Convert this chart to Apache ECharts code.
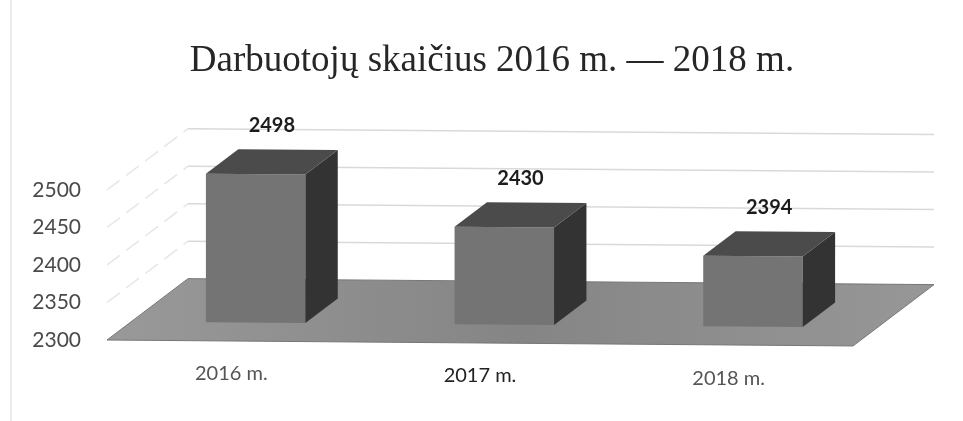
<!DOCTYPE html>
<html>
<head>
<meta charset="utf-8">
<style>
  html, body { margin: 0; padding: 0; background: #fff; }
  #chart { width: 963px; height: 421px; }
</style>
<script src="https://cdn.jsdelivr.net/npm/echarts@6/dist/echarts.min.js"></script>
</head>
<body>
<div id="chart"></div>
<script>
var categories = ['2016 m.', '2017 m.', '2018 m.']
var employees = [2498, 2430, 2394]
var yTicks = [2300, 2350, 2400, 2450, 2500]

// oblique projection of the old 3D chart: z=0 front edge of floor, z=1 back wall
var depthX = 81
var depthY = -62
var tilt = 0.008 // the scan is slightly rotated
var gridLeft = 107

function project(api, cat, value, z) {
  var c = api.coord([0, value])
  var band = api.size([1, 0])[0]
  var x = c[0] + cat * band + z * depthX
  var y = c[1] + z * depthY + (x - gridLeft) * tilt
  return [x, y]
}

function renderWall(params, api) {
  var v = api.value(0)
  var a = project(api, -0.5, v, 0)
  var b = project(api, -0.5, v, 1)
  var d = project(api, 2.5, v, 1)
  return {
    type: 'group',
    children: [
      { type: 'line', shape: { x1: a[0], y1: a[1], x2: b[0], y2: b[1] }, style: { stroke: '#e6e6e6', lineWidth: 1.5, lineDash: [16, 8] } },
      { type: 'line', shape: { x1: b[0], y1: b[1], x2: d[0], y2: d[1] }, style: { stroke: '#d9d9d9', lineWidth: 1.5 } }
    ]
  }
}

function renderFloor(params, api) {
  var base = yTicks[0]
  return {
    type: 'polygon',
    shape: { points: [
      project(api, -0.5, base, 0),
      project(api, -0.5, base, 1),
      project(api, 2.5, base, 1),
      project(api, 2.5, base, 0)
    ] },
    style: {
      fill: {
        type: 'linear', x: 0, y: 0, x2: 1, y2: 0,
        colorStops: [
          { offset: 0, color: '#999999' },
          { offset: 0.5, color: '#858585' },
          { offset: 1, color: '#979797' }
        ]
      },
      stroke: '#777777',
      lineWidth: 1
    }
  }
}

function renderBar(params, api) {
  var i = api.value(0)
  var v = api.value(1)
  var base = yTicks[0]
  var half = 0.2
  var z0 = 0.3
  var z1 = 0.7
  var fbl = project(api, i - half, base, z0)
  var fbr = project(api, i + half, base, z0)
  var ftl = project(api, i - half, v, z0)
  var ftr = project(api, i + half, v, z0)
  var bbr = project(api, i + half, base, z1)
  var btl = project(api, i - half, v, z1)
  var btr = project(api, i + half, v, z1)
  var top = project(api, i, v, 0.5)
  return {
    type: 'group',
    children: [
      { type: 'polygon', shape: { points: [fbl, fbr, ftr, ftl] }, style: { fill: '#747474' } },
      { type: 'polygon', shape: { points: [fbr, bbr, btr, ftr] }, style: { fill: '#333333' } },
      { type: 'polygon', shape: { points: [ftl, ftr, btr, btl] }, style: { fill: '#4b4b4b' } },
      {
        type: 'text',
        style: {
          x: top[0], y: top[1] - 36,
          text: api.value(1) + '',
          fill: '#1c1c1c',
          font: 'bold 20px Lato',
          align: 'center',
          verticalAlign: 'middle'
        }
      }
    ]
  }
}

var chart = echarts.init(document.getElementById('chart'))
chart.setOption({
  animation: false,
  backgroundColor: '#fff',
  title: {
    text: 'Darbuotojų skaičius 2016 m. — 2018 m.',
    left: 487,
    top: 38,
    textAlign: 'center',
    textStyle: {
      fontFamily: 'Liberation Serif',
      fontWeight: 'normal',
      fontSize: 37,
      color: '#262626'
    }
  },
  grid: { left: gridLeft, right: 110, top: 190, bottom: 81 },
  xAxis: {
    type: 'category',
    data: categories,
    axisLine: { show: false },
    axisTick: { show: false },
    axisLabel: {
      margin: 24,
      fontFamily: 'Lato',
      fontSize: 20,
      formatter: function (v, i) {
        return '{c' + i + '|' + v + '}'
      },
      rich: {
        c0: { color: '#555', fontFamily: 'Lato', fontSize: 20, padding: [0, 0, 0, 0] },
        c1: { color: '#222', fontFamily: 'Lato', fontSize: 20, padding: [2, 0, 0, 0] },
        c2: { color: '#555', fontFamily: 'Lato', fontSize: 20, padding: [5, 0, 0, 0] }
      }
    }
  },
  yAxis: {
    type: 'value',
    min: 2300,
    max: 2500,
    interval: 50,
    axisLine: { show: false },
    axisTick: { show: false },
    splitLine: { show: false },
    axisLabel: {
      margin: 26,
      color: '#4a4a4a',
      fontFamily: 'Lato',
      fontSize: 21,
      padding: [8, 0, 0, 0],
      formatter: function (v) { return String(v) }
    }
  },
  series: [
    {
      type: 'custom',
      coordinateSystem: 'cartesian2d',
      renderItem: renderWall,
      encode: { y: 0 },
      data: yTicks.slice(1).map(function (v) { return [v] }),
      silent: true,
      z: 1
    },
    {
      type: 'custom',
      coordinateSystem: 'cartesian2d',
      renderItem: renderFloor,
      data: [[0, yTicks[0]]],
      encode: { x: 0, y: 1 },
      silent: true,
      z: 2
    },
    {
      type: 'custom',
      coordinateSystem: 'cartesian2d',
      renderItem: renderBar,
      encode: { x: 0, y: 1 },
      data: employees.map(function (v, i) { return [i, v] }),
      z: 3
    }
  ],
  graphic: [
    // faint scanner edge on the left
    { type: 'line', shape: { x1: 11, y1: 0, x2: 11, y2: 421 }, style: { stroke: '#ececec', lineWidth: 2 } }
  ]
})
</script>
</body>
</html>
